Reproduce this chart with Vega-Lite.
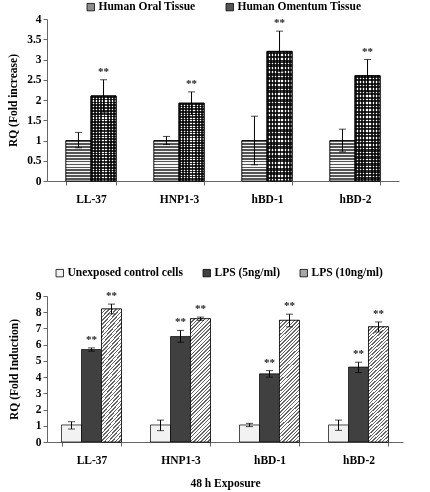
{
  "$schema": "https://vega.github.io/schema/vega-lite/v6.json",
  "background": "white",
  "padding": {"left": 7, "top": 1, "right": 5, "bottom": 5},
  "bounds": "flush",
  "spacing": 115,
  "config": {
    "font": "Times New Roman, Liberation Serif, serif",
    "view": {"stroke": null},
    "axis": {
      "labelFont": "Times New Roman, Liberation Serif, serif", "labelFontWeight": "bold", "labelFontSize": 11.5, "labelColor": "#000",
      "titleFont": "Times New Roman, Liberation Serif, serif", "titleFontWeight": "bold", "titleFontSize": 11.5, "titleColor": "#000",
      "domainColor": "#666", "tickColor": "#666", "grid": false
    },
    "legend": {
      "labelFont": "Times New Roman, Liberation Serif, serif", "labelFontWeight": "bold", "labelFontSize": 11.5, "labelColor": "#000",
      "symbolType": "square", "symbolSize": 55, "symbolStrokeColor": "#000", "symbolStrokeWidth": 0.8,
      "title": null, "labelOffset": 2
    }
  },
  "datasets": {
    "top": [
      {"gene": "LL-37", "tissue": "Human Oral Tissue", "value": 1.0, "lo": 0.82, "hi": 1.2, "sig": ""},
      {"gene": "LL-37", "tissue": "Human Omentum Tissue", "value": 2.1, "lo": 1.7, "hi": 2.5, "sig": "**"},
      {"gene": "HNP1-3", "tissue": "Human Oral Tissue", "value": 1.0, "lo": 0.9, "hi": 1.1, "sig": ""},
      {"gene": "HNP1-3", "tissue": "Human Omentum Tissue", "value": 1.92, "lo": 1.64, "hi": 2.2, "sig": "**"},
      {"gene": "hBD-1", "tissue": "Human Oral Tissue", "value": 1.0, "lo": 0.4, "hi": 1.6, "sig": ""},
      {"gene": "hBD-1", "tissue": "Human Omentum Tissue", "value": 3.2, "lo": 2.7, "hi": 3.7, "sig": "**"},
      {"gene": "hBD-2", "tissue": "Human Oral Tissue", "value": 1.0, "lo": 0.72, "hi": 1.28, "sig": ""},
      {"gene": "hBD-2", "tissue": "Human Omentum Tissue", "value": 2.6, "lo": 2.2, "hi": 3.0, "sig": "**"}
    ],
    "bottom": [
      {"gene": "LL-37", "group": "Unexposed control cells", "value": 1.05, "lo": 0.8, "hi": 1.25, "sig": ""},
      {"gene": "LL-37", "group": "LPS (5ng/ml)", "value": 5.7, "lo": 5.6, "hi": 5.8, "sig": "**"},
      {"gene": "LL-37", "group": "LPS (10ng/ml)", "value": 8.2, "lo": 7.9, "hi": 8.5, "sig": "**"},
      {"gene": "HNP1-3", "group": "Unexposed control cells", "value": 1.05, "lo": 0.7, "hi": 1.35, "sig": ""},
      {"gene": "HNP1-3", "group": "LPS (5ng/ml)", "value": 6.5, "lo": 6.15, "hi": 6.88, "sig": "**"},
      {"gene": "HNP1-3", "group": "LPS (10ng/ml)", "value": 7.6, "lo": 7.5, "hi": 7.7, "sig": "**"},
      {"gene": "hBD-1", "group": "Unexposed control cells", "value": 1.05, "lo": 0.95, "hi": 1.15, "sig": ""},
      {"gene": "hBD-1", "group": "LPS (5ng/ml)", "value": 4.2, "lo": 4.0, "hi": 4.4, "sig": "**"},
      {"gene": "hBD-1", "group": "LPS (10ng/ml)", "value": 7.5, "lo": 7.1, "hi": 7.88, "sig": "**"},
      {"gene": "hBD-2", "group": "Unexposed control cells", "value": 1.05, "lo": 0.72, "hi": 1.35, "sig": ""},
      {"gene": "hBD-2", "group": "LPS (5ng/ml)", "value": 4.62, "lo": 4.28, "hi": 4.92, "sig": "**"},
      {"gene": "hBD-2", "group": "LPS (10ng/ml)", "value": 7.1, "lo": 6.78, "hi": 7.4, "sig": "**"}
    ]
  },
  "resolve": {"scale": {"x": "independent", "y": "independent", "color": "independent", "xOffset": "independent"}, "legend": {"color": "independent"}},
  "vconcat": [
    {
      "width": 352,
      "height": 162,
      "data": {"name": "top"},
      "encoding": {
        "x": {"field": "gene", "type": "nominal", "sort": null,
              "scale": {"paddingInner": 0.43, "paddingOuter": 0.215},
              "axis": {"title": null, "labelAngle": 0, "tickBand": "extent", "ticks": true, "tickSize": 4, "labelPadding": 8}},
        "xOffset": {"field": "tissue", "type": "nominal", "sort": null, "scale": {"domain": ["Human Oral Tissue", "Human Omentum Tissue"], "paddingInner": 0}}
      },
      "layer": [
        {
          "mark": {"type": "bar", "stroke": "#000", "strokeWidth": 0.7},
          "encoding": {
            "y": {"field": "value", "type": "quantitative", "scale": {"domain": [0, 4]},
                  "axis": {"title": "RQ (Fold increase)", "values": [0, 0.5, 1, 1.5, 2, 2.5, 3, 3.5, 4], "format": "~g", "tickSize": 4, "titlePadding": 8, "labelOverlap": false}},
            "color": {"field": "tissue", "type": "nominal", "sort": null,
                      "scale": {"domain": ["Human Oral Tissue", "Human Omentum Tissue"], "range": ["#8c8c8c", "#555555"]},
                      "legend": {"orient": "none", "legendX": 38, "legendY": -18, "direction": "horizontal", "columnPadding": 28}}
          }
        },
        {
          "transform": [{"filter": "datum.tissue == 'Human Oral Tissue'"}],
          "mark": {"type": "bar", "stroke": "#000", "strokeWidth": 0.7,
                   "fill": {"gradient": "linear", "x1": 0, "y1": 0, "x2": 0, "y2": 1, "stops": [
                     {"offset": 0, "color": "#555"}, {"offset": 0.0429, "color": "#555"}, {"offset": 0.0429, "color": "#f4f4f4"}, {"offset": 0.0714, "color": "#f4f4f4"},
                     {"offset": 0.0714, "color": "#555"}, {"offset": 0.1143, "color": "#555"}, {"offset": 0.1143, "color": "#f4f4f4"}, {"offset": 0.1429, "color": "#f4f4f4"},
                     {"offset": 0.1429, "color": "#555"}, {"offset": 0.1857, "color": "#555"}, {"offset": 0.1857, "color": "#f4f4f4"}, {"offset": 0.2143, "color": "#f4f4f4"},
                     {"offset": 0.2143, "color": "#555"}, {"offset": 0.2571, "color": "#555"}, {"offset": 0.2571, "color": "#f4f4f4"}, {"offset": 0.2857, "color": "#f4f4f4"},
                     {"offset": 0.2857, "color": "#555"}, {"offset": 0.3286, "color": "#555"}, {"offset": 0.3286, "color": "#f4f4f4"}, {"offset": 0.3571, "color": "#f4f4f4"},
                     {"offset": 0.3571, "color": "#555"}, {"offset": 0.4, "color": "#555"}, {"offset": 0.4, "color": "#f4f4f4"}, {"offset": 0.4286, "color": "#f4f4f4"},
                     {"offset": 0.4286, "color": "#555"}, {"offset": 0.4714, "color": "#555"}, {"offset": 0.4714, "color": "#f4f4f4"}, {"offset": 0.5, "color": "#f4f4f4"},
                     {"offset": 0.5, "color": "#555"}, {"offset": 0.5429, "color": "#555"}, {"offset": 0.5429, "color": "#f4f4f4"}, {"offset": 0.5714, "color": "#f4f4f4"},
                     {"offset": 0.5714, "color": "#555"}, {"offset": 0.6143, "color": "#555"}, {"offset": 0.6143, "color": "#f4f4f4"}, {"offset": 0.6429, "color": "#f4f4f4"},
                     {"offset": 0.6429, "color": "#555"}, {"offset": 0.6857, "color": "#555"}, {"offset": 0.6857, "color": "#f4f4f4"}, {"offset": 0.7143, "color": "#f4f4f4"},
                     {"offset": 0.7143, "color": "#555"}, {"offset": 0.7571, "color": "#555"}, {"offset": 0.7571, "color": "#f4f4f4"}, {"offset": 0.7857, "color": "#f4f4f4"},
                     {"offset": 0.7857, "color": "#555"}, {"offset": 0.8286, "color": "#555"}, {"offset": 0.8286, "color": "#f4f4f4"}, {"offset": 0.8571, "color": "#f4f4f4"},
                     {"offset": 0.8571, "color": "#555"}, {"offset": 0.9, "color": "#555"}, {"offset": 0.9, "color": "#f4f4f4"}, {"offset": 0.9286, "color": "#f4f4f4"},
                     {"offset": 0.9286, "color": "#555"}, {"offset": 0.9714, "color": "#555"}, {"offset": 0.9714, "color": "#f4f4f4"}, {"offset": 1, "color": "#f4f4f4"}
                   ]}},
          "encoding": {
            "y": {"field": "value", "type": "quantitative",
                  "axis": {"title": "RQ (Fold increase)", "values": [0, 0.5, 1, 1.5, 2, 2.5, 3, 3.5, 4], "format": "~g", "tickSize": 4, "titlePadding": 8, "labelOverlap": false}}
          }
        },
        {
          "transform": [{"filter": "datum.tissue == 'Human Omentum Tissue'"}],
          "mark": {"type": "bar", "stroke": "#000", "strokeWidth": 0.7,
                   "fill": {"gradient": "linear", "x1": 0, "y1": 0, "x2": 0, "y2": 1, "stops": [
                     {"offset": 0, "color": "#333"}, {"offset": 0.02, "color": "#333"}, {"offset": 0.02, "color": "#fff"}, {"offset": 0.0333, "color": "#fff"},
                     {"offset": 0.0333, "color": "#333"}, {"offset": 0.0533, "color": "#333"}, {"offset": 0.0533, "color": "#fff"}, {"offset": 0.0667, "color": "#fff"},
                     {"offset": 0.0667, "color": "#333"}, {"offset": 0.0867, "color": "#333"}, {"offset": 0.0867, "color": "#fff"}, {"offset": 0.1, "color": "#fff"},
                     {"offset": 0.1, "color": "#333"}, {"offset": 0.12, "color": "#333"}, {"offset": 0.12, "color": "#fff"}, {"offset": 0.1333, "color": "#fff"},
                     {"offset": 0.1333, "color": "#333"}, {"offset": 0.1533, "color": "#333"}, {"offset": 0.1533, "color": "#fff"}, {"offset": 0.1667, "color": "#fff"},
                     {"offset": 0.1667, "color": "#333"}, {"offset": 0.1867, "color": "#333"}, {"offset": 0.1867, "color": "#fff"}, {"offset": 0.2, "color": "#fff"},
                     {"offset": 0.2, "color": "#333"}, {"offset": 0.22, "color": "#333"}, {"offset": 0.22, "color": "#fff"}, {"offset": 0.2333, "color": "#fff"},
                     {"offset": 0.2333, "color": "#333"}, {"offset": 0.2533, "color": "#333"}, {"offset": 0.2533, "color": "#fff"}, {"offset": 0.2667, "color": "#fff"},
                     {"offset": 0.2667, "color": "#333"}, {"offset": 0.2867, "color": "#333"}, {"offset": 0.2867, "color": "#fff"}, {"offset": 0.3, "color": "#fff"},
                     {"offset": 0.3, "color": "#333"}, {"offset": 0.32, "color": "#333"}, {"offset": 0.32, "color": "#fff"}, {"offset": 0.3333, "color": "#fff"},
                     {"offset": 0.3333, "color": "#333"}, {"offset": 0.3533, "color": "#333"}, {"offset": 0.3533, "color": "#fff"}, {"offset": 0.3667, "color": "#fff"},
                     {"offset": 0.3667, "color": "#333"}, {"offset": 0.3867, "color": "#333"}, {"offset": 0.3867, "color": "#fff"}, {"offset": 0.4, "color": "#fff"},
                     {"offset": 0.4, "color": "#333"}, {"offset": 0.42, "color": "#333"}, {"offset": 0.42, "color": "#fff"}, {"offset": 0.4333, "color": "#fff"},
                     {"offset": 0.4333, "color": "#333"}, {"offset": 0.4533, "color": "#333"}, {"offset": 0.4533, "color": "#fff"}, {"offset": 0.4667, "color": "#fff"},
                     {"offset": 0.4667, "color": "#333"}, {"offset": 0.4867, "color": "#333"}, {"offset": 0.4867, "color": "#fff"}, {"offset": 0.5, "color": "#fff"},
                     {"offset": 0.5, "color": "#333"}, {"offset": 0.52, "color": "#333"}, {"offset": 0.52, "color": "#fff"}, {"offset": 0.5333, "color": "#fff"},
                     {"offset": 0.5333, "color": "#333"}, {"offset": 0.5533, "color": "#333"}, {"offset": 0.5533, "color": "#fff"}, {"offset": 0.5667, "color": "#fff"},
                     {"offset": 0.5667, "color": "#333"}, {"offset": 0.5867, "color": "#333"}, {"offset": 0.5867, "color": "#fff"}, {"offset": 0.6, "color": "#fff"},
                     {"offset": 0.6, "color": "#333"}, {"offset": 0.62, "color": "#333"}, {"offset": 0.62, "color": "#fff"}, {"offset": 0.6333, "color": "#fff"},
                     {"offset": 0.6333, "color": "#333"}, {"offset": 0.6533, "color": "#333"}, {"offset": 0.6533, "color": "#fff"}, {"offset": 0.6667, "color": "#fff"},
                     {"offset": 0.6667, "color": "#333"}, {"offset": 0.6867, "color": "#333"}, {"offset": 0.6867, "color": "#fff"}, {"offset": 0.7, "color": "#fff"},
                     {"offset": 0.7, "color": "#333"}, {"offset": 0.72, "color": "#333"}, {"offset": 0.72, "color": "#fff"}, {"offset": 0.7333, "color": "#fff"},
                     {"offset": 0.7333, "color": "#333"}, {"offset": 0.7533, "color": "#333"}, {"offset": 0.7533, "color": "#fff"}, {"offset": 0.7667, "color": "#fff"},
                     {"offset": 0.7667, "color": "#333"}, {"offset": 0.7867, "color": "#333"}, {"offset": 0.7867, "color": "#fff"}, {"offset": 0.8, "color": "#fff"},
                     {"offset": 0.8, "color": "#333"}, {"offset": 0.82, "color": "#333"}, {"offset": 0.82, "color": "#fff"}, {"offset": 0.8333, "color": "#fff"},
                     {"offset": 0.8333, "color": "#333"}, {"offset": 0.8533, "color": "#333"}, {"offset": 0.8533, "color": "#fff"}, {"offset": 0.8667, "color": "#fff"},
                     {"offset": 0.8667, "color": "#333"}, {"offset": 0.8867, "color": "#333"}, {"offset": 0.8867, "color": "#fff"}, {"offset": 0.9, "color": "#fff"},
                     {"offset": 0.9, "color": "#333"}, {"offset": 0.92, "color": "#333"}, {"offset": 0.92, "color": "#fff"}, {"offset": 0.9333, "color": "#fff"},
                     {"offset": 0.9333, "color": "#333"}, {"offset": 0.9533, "color": "#333"}, {"offset": 0.9533, "color": "#fff"}, {"offset": 0.9667, "color": "#fff"},
                     {"offset": 0.9667, "color": "#333"}, {"offset": 0.9867, "color": "#333"}, {"offset": 0.9867, "color": "#fff"}, {"offset": 1, "color": "#fff"}
                   ]}},
          "encoding": {
            "y": {"field": "value", "type": "quantitative",
                  "axis": {"title": "RQ (Fold increase)", "values": [0, 0.5, 1, 1.5, 2, 2.5, 3, 3.5, 4], "format": "~g", "tickSize": 4, "titlePadding": 8, "labelOverlap": false}}
          }
        },
        {
          "transform": [{"filter": "datum.tissue == 'Human Omentum Tissue'"}],
          "mark": {"type": "bar", "stroke": "#000", "strokeWidth": 0.7, "blend": "multiply",
                   "fill": {"gradient": "linear", "x1": 0, "y1": 0, "x2": 1, "y2": 0, "stops": [
                     {"offset": 0, "color": "#333"}, {"offset": 0.075, "color": "#333"}, {"offset": 0.075, "color": "#fff"}, {"offset": 0.125, "color": "#fff"},
                     {"offset": 0.125, "color": "#333"}, {"offset": 0.2, "color": "#333"}, {"offset": 0.2, "color": "#fff"}, {"offset": 0.25, "color": "#fff"},
                     {"offset": 0.25, "color": "#333"}, {"offset": 0.325, "color": "#333"}, {"offset": 0.325, "color": "#fff"}, {"offset": 0.375, "color": "#fff"},
                     {"offset": 0.375, "color": "#333"}, {"offset": 0.45, "color": "#333"}, {"offset": 0.45, "color": "#fff"}, {"offset": 0.5, "color": "#fff"},
                     {"offset": 0.5, "color": "#333"}, {"offset": 0.575, "color": "#333"}, {"offset": 0.575, "color": "#fff"}, {"offset": 0.625, "color": "#fff"},
                     {"offset": 0.625, "color": "#333"}, {"offset": 0.7, "color": "#333"}, {"offset": 0.7, "color": "#fff"}, {"offset": 0.75, "color": "#fff"},
                     {"offset": 0.75, "color": "#333"}, {"offset": 0.825, "color": "#333"}, {"offset": 0.825, "color": "#fff"}, {"offset": 0.875, "color": "#fff"},
                     {"offset": 0.875, "color": "#333"}, {"offset": 0.95, "color": "#333"}, {"offset": 0.95, "color": "#fff"}, {"offset": 1, "color": "#fff"}
                   ]}},
          "encoding": {
            "y": {"field": "value", "type": "quantitative",
                  "axis": {"title": "RQ (Fold increase)", "values": [0, 0.5, 1, 1.5, 2, 2.5, 3, 3.5, 4], "format": "~g", "tickSize": 4, "titlePadding": 8, "labelOverlap": false}}
          }
        },
        {
          "mark": {"type": "rule", "color": "#000", "strokeWidth": 1},
          "encoding": {"y": {"field": "lo", "type": "quantitative",
                  "axis": {"title": "RQ (Fold increase)", "values": [0, 0.5, 1, 1.5, 2, 2.5, 3, 3.5, 4], "format": "~g", "tickSize": 4, "titlePadding": 8, "labelOverlap": false}}, "y2": {"field": "hi"}}
        },
        {
          "mark": {"type": "tick", "color": "#000", "size": 7, "thickness": 1},
          "encoding": {"y": {"field": "hi", "type": "quantitative",
                  "axis": {"title": "RQ (Fold increase)", "values": [0, 0.5, 1, 1.5, 2, 2.5, 3, 3.5, 4], "format": "~g", "tickSize": 4, "titlePadding": 8, "labelOverlap": false}}}
        },
        {
          "mark": {"type": "tick", "color": "#000", "size": 7, "thickness": 1},
          "encoding": {"y": {"field": "lo", "type": "quantitative",
                  "axis": {"title": "RQ (Fold increase)", "values": [0, 0.5, 1, 1.5, 2, 2.5, 3, 3.5, 4], "format": "~g", "tickSize": 4, "titlePadding": 8, "labelOverlap": false}}}
        },
        {
          "transform": [{"filter": "datum.sig != ''"}],
          "mark": {"type": "text", "dy": -8, "fontSize": 11, "fontWeight": "bold", "color": "#222"},
          "encoding": {"y": {"field": "hi", "type": "quantitative",
                  "axis": {"title": "RQ (Fold increase)", "values": [0, 0.5, 1, 1.5, 2, 2.5, 3, 3.5, 4], "format": "~g", "tickSize": 4, "titlePadding": 8, "labelOverlap": false}}, "text": {"field": "sig"}}
        }
      ]
    },
    {
      "width": 356,
      "height": 146,
      "data": {"name": "bottom"},
      "encoding": {
        "x": {"field": "gene", "type": "nominal", "sort": null,
              "scale": {"paddingInner": 0.326, "paddingOuter": 0.163},
              "axis": {"title": "48 h Exposure", "labelAngle": 0, "tickBand": "extent", "ticks": true, "tickSize": 4, "labelPadding": 8, "titlePadding": 12}},
        "xOffset": {"field": "group", "type": "nominal", "sort": null, "scale": {"domain": ["Unexposed control cells", "LPS (5ng/ml)", "LPS (10ng/ml)"], "paddingInner": 0}}
      },
      "layer": [
        {
          "mark": {"type": "bar", "stroke": "#000", "strokeWidth": 0.7},
          "encoding": {
            "y": {"field": "value", "type": "quantitative", "scale": {"domain": [0, 9]},
                  "axis": {"title": "RQ (Fold Induction)", "values": [0, 1, 2, 3, 4, 5, 6, 7, 8, 9], "tickSize": 4, "titlePadding": 16, "labelOverlap": false}},
            "color": {"field": "group", "type": "nominal", "sort": null,
                      "scale": {"domain": ["Unexposed control cells", "LPS (5ng/ml)", "LPS (10ng/ml)"], "range": ["#f2f2f2", "#404040", "#a8a8a8"]},
                      "legend": {"orient": "none", "legendX": 7, "legendY": -29, "direction": "horizontal", "columnPadding": 18}}
          }
        },
        {
          "transform": [{"filter": "datum.group == 'LPS (10ng/ml)'"}],
          "mark": {"type": "bar", "stroke": "#000", "strokeWidth": 0.7,
                   "fill": {"gradient": "linear", "x1": 0, "y1": 0, "x2": 0.184, "y2": 1.133, "stops": [
                     {"offset": 0, "color": "#666"}, {"offset": 0.01, "color": "#666"}, {"offset": 0.01, "color": "#fff"}, {"offset": 0.025, "color": "#fff"},
                     {"offset": 0.025, "color": "#666"}, {"offset": 0.035, "color": "#666"}, {"offset": 0.035, "color": "#fff"}, {"offset": 0.05, "color": "#fff"},
                     {"offset": 0.05, "color": "#666"}, {"offset": 0.06, "color": "#666"}, {"offset": 0.06, "color": "#fff"}, {"offset": 0.075, "color": "#fff"},
                     {"offset": 0.075, "color": "#666"}, {"offset": 0.085, "color": "#666"}, {"offset": 0.085, "color": "#fff"}, {"offset": 0.1, "color": "#fff"},
                     {"offset": 0.1, "color": "#666"}, {"offset": 0.11, "color": "#666"}, {"offset": 0.11, "color": "#fff"}, {"offset": 0.125, "color": "#fff"},
                     {"offset": 0.125, "color": "#666"}, {"offset": 0.135, "color": "#666"}, {"offset": 0.135, "color": "#fff"}, {"offset": 0.15, "color": "#fff"},
                     {"offset": 0.15, "color": "#666"}, {"offset": 0.16, "color": "#666"}, {"offset": 0.16, "color": "#fff"}, {"offset": 0.175, "color": "#fff"},
                     {"offset": 0.175, "color": "#666"}, {"offset": 0.185, "color": "#666"}, {"offset": 0.185, "color": "#fff"}, {"offset": 0.2, "color": "#fff"},
                     {"offset": 0.2, "color": "#666"}, {"offset": 0.21, "color": "#666"}, {"offset": 0.21, "color": "#fff"}, {"offset": 0.225, "color": "#fff"},
                     {"offset": 0.225, "color": "#666"}, {"offset": 0.235, "color": "#666"}, {"offset": 0.235, "color": "#fff"}, {"offset": 0.25, "color": "#fff"},
                     {"offset": 0.25, "color": "#666"}, {"offset": 0.26, "color": "#666"}, {"offset": 0.26, "color": "#fff"}, {"offset": 0.275, "color": "#fff"},
                     {"offset": 0.275, "color": "#666"}, {"offset": 0.285, "color": "#666"}, {"offset": 0.285, "color": "#fff"}, {"offset": 0.3, "color": "#fff"},
                     {"offset": 0.3, "color": "#666"}, {"offset": 0.31, "color": "#666"}, {"offset": 0.31, "color": "#fff"}, {"offset": 0.325, "color": "#fff"},
                     {"offset": 0.325, "color": "#666"}, {"offset": 0.335, "color": "#666"}, {"offset": 0.335, "color": "#fff"}, {"offset": 0.35, "color": "#fff"},
                     {"offset": 0.35, "color": "#666"}, {"offset": 0.36, "color": "#666"}, {"offset": 0.36, "color": "#fff"}, {"offset": 0.375, "color": "#fff"},
                     {"offset": 0.375, "color": "#666"}, {"offset": 0.385, "color": "#666"}, {"offset": 0.385, "color": "#fff"}, {"offset": 0.4, "color": "#fff"},
                     {"offset": 0.4, "color": "#666"}, {"offset": 0.41, "color": "#666"}, {"offset": 0.41, "color": "#fff"}, {"offset": 0.425, "color": "#fff"},
                     {"offset": 0.425, "color": "#666"}, {"offset": 0.435, "color": "#666"}, {"offset": 0.435, "color": "#fff"}, {"offset": 0.45, "color": "#fff"},
                     {"offset": 0.45, "color": "#666"}, {"offset": 0.46, "color": "#666"}, {"offset": 0.46, "color": "#fff"}, {"offset": 0.475, "color": "#fff"},
                     {"offset": 0.475, "color": "#666"}, {"offset": 0.485, "color": "#666"}, {"offset": 0.485, "color": "#fff"}, {"offset": 0.5, "color": "#fff"},
                     {"offset": 0.5, "color": "#666"}, {"offset": 0.51, "color": "#666"}, {"offset": 0.51, "color": "#fff"}, {"offset": 0.525, "color": "#fff"},
                     {"offset": 0.525, "color": "#666"}, {"offset": 0.535, "color": "#666"}, {"offset": 0.535, "color": "#fff"}, {"offset": 0.55, "color": "#fff"},
                     {"offset": 0.55, "color": "#666"}, {"offset": 0.56, "color": "#666"}, {"offset": 0.56, "color": "#fff"}, {"offset": 0.575, "color": "#fff"},
                     {"offset": 0.575, "color": "#666"}, {"offset": 0.585, "color": "#666"}, {"offset": 0.585, "color": "#fff"}, {"offset": 0.6, "color": "#fff"},
                     {"offset": 0.6, "color": "#666"}, {"offset": 0.61, "color": "#666"}, {"offset": 0.61, "color": "#fff"}, {"offset": 0.625, "color": "#fff"},
                     {"offset": 0.625, "color": "#666"}, {"offset": 0.635, "color": "#666"}, {"offset": 0.635, "color": "#fff"}, {"offset": 0.65, "color": "#fff"},
                     {"offset": 0.65, "color": "#666"}, {"offset": 0.66, "color": "#666"}, {"offset": 0.66, "color": "#fff"}, {"offset": 0.675, "color": "#fff"},
                     {"offset": 0.675, "color": "#666"}, {"offset": 0.685, "color": "#666"}, {"offset": 0.685, "color": "#fff"}, {"offset": 0.7, "color": "#fff"},
                     {"offset": 0.7, "color": "#666"}, {"offset": 0.71, "color": "#666"}, {"offset": 0.71, "color": "#fff"}, {"offset": 0.725, "color": "#fff"},
                     {"offset": 0.725, "color": "#666"}, {"offset": 0.735, "color": "#666"}, {"offset": 0.735, "color": "#fff"}, {"offset": 0.75, "color": "#fff"},
                     {"offset": 0.75, "color": "#666"}, {"offset": 0.76, "color": "#666"}, {"offset": 0.76, "color": "#fff"}, {"offset": 0.775, "color": "#fff"},
                     {"offset": 0.775, "color": "#666"}, {"offset": 0.785, "color": "#666"}, {"offset": 0.785, "color": "#fff"}, {"offset": 0.8, "color": "#fff"},
                     {"offset": 0.8, "color": "#666"}, {"offset": 0.81, "color": "#666"}, {"offset": 0.81, "color": "#fff"}, {"offset": 0.825, "color": "#fff"},
                     {"offset": 0.825, "color": "#666"}, {"offset": 0.835, "color": "#666"}, {"offset": 0.835, "color": "#fff"}, {"offset": 0.85, "color": "#fff"},
                     {"offset": 0.85, "color": "#666"}, {"offset": 0.86, "color": "#666"}, {"offset": 0.86, "color": "#fff"}, {"offset": 0.875, "color": "#fff"},
                     {"offset": 0.875, "color": "#666"}, {"offset": 0.885, "color": "#666"}, {"offset": 0.885, "color": "#fff"}, {"offset": 0.9, "color": "#fff"},
                     {"offset": 0.9, "color": "#666"}, {"offset": 0.91, "color": "#666"}, {"offset": 0.91, "color": "#fff"}, {"offset": 0.925, "color": "#fff"},
                     {"offset": 0.925, "color": "#666"}, {"offset": 0.935, "color": "#666"}, {"offset": 0.935, "color": "#fff"}, {"offset": 0.95, "color": "#fff"},
                     {"offset": 0.95, "color": "#666"}, {"offset": 0.96, "color": "#666"}, {"offset": 0.96, "color": "#fff"}, {"offset": 0.975, "color": "#fff"},
                     {"offset": 0.975, "color": "#666"}, {"offset": 0.985, "color": "#666"}, {"offset": 0.985, "color": "#fff"}, {"offset": 1, "color": "#fff"}
                   ]}},
          "encoding": {
            "y": {"field": "value", "type": "quantitative",
                  "axis": {"title": "RQ (Fold Induction)", "values": [0, 1, 2, 3, 4, 5, 6, 7, 8, 9], "tickSize": 4, "titlePadding": 16, "labelOverlap": false}}
          }
        },
        {
          "mark": {"type": "rule", "color": "#000", "strokeWidth": 1},
          "encoding": {"y": {"field": "lo", "type": "quantitative",
                  "axis": {"title": "RQ (Fold Induction)", "values": [0, 1, 2, 3, 4, 5, 6, 7, 8, 9], "tickSize": 4, "titlePadding": 16, "labelOverlap": false}}, "y2": {"field": "hi"}}
        },
        {
          "mark": {"type": "tick", "color": "#000", "size": 7, "thickness": 1},
          "encoding": {"y": {"field": "hi", "type": "quantitative",
                  "axis": {"title": "RQ (Fold Induction)", "values": [0, 1, 2, 3, 4, 5, 6, 7, 8, 9], "tickSize": 4, "titlePadding": 16, "labelOverlap": false}}}
        },
        {
          "mark": {"type": "tick", "color": "#000", "size": 7, "thickness": 1},
          "encoding": {"y": {"field": "lo", "type": "quantitative",
                  "axis": {"title": "RQ (Fold Induction)", "values": [0, 1, 2, 3, 4, 5, 6, 7, 8, 9], "tickSize": 4, "titlePadding": 16, "labelOverlap": false}}}
        },
        {
          "transform": [{"filter": "datum.sig != ''"}],
          "mark": {"type": "text", "dy": -8, "fontSize": 11, "fontWeight": "bold", "color": "#222"},
          "encoding": {"y": {"field": "hi", "type": "quantitative",
                  "axis": {"title": "RQ (Fold Induction)", "values": [0, 1, 2, 3, 4, 5, 6, 7, 8, 9], "tickSize": 4, "titlePadding": 16, "labelOverlap": false}}, "text": {"field": "sig"}}
        }
      ]
    }
  ]
}
